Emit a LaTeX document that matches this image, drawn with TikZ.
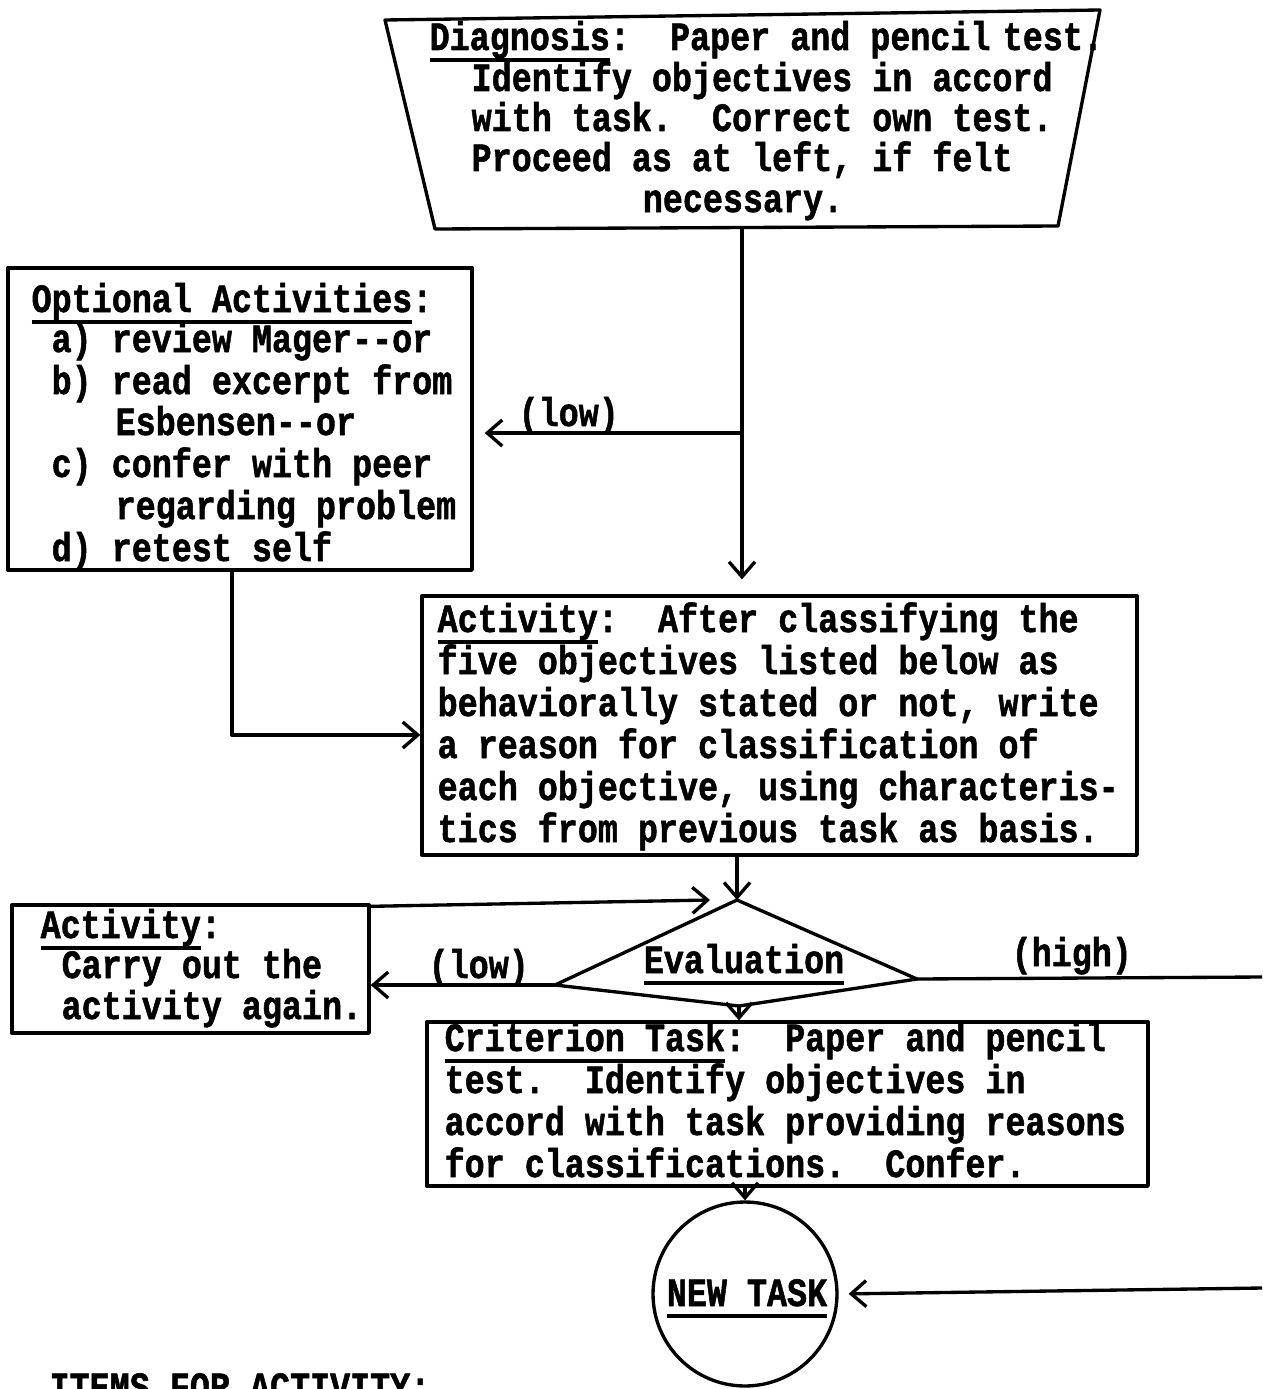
\documentclass[tikz,border=0pt]{standalone}
\usepackage{fontspec}
\newfontfamily\tw{Liberation Mono}[BoldFont={* Bold},BoldFeatures={FakeBold=1.5}]
\usetikzlibrary{arrows.meta,fit}
\newsavebox\ulbx
\newcommand\ul[1]{\sbox\ulbx{#1}\rlap{\rule[-5.5pt]{\wd\ulbx}{1.5pt}}\usebox\ulbx}
\newcommand\Y[1]{\scalebox{1}[1.2]{#1}}
\newcommand\F{\tw\bfseries\fontsize{19pt}{23pt}\selectfont\frenchspacing}
\begin{document}
\begin{tikzpicture}[x=0.02cm,y=-0.02cm,line width=1.9pt,line join=round,
  box/.style={draw,inner sep=0pt},
  tl/.style={inner sep=0pt,anchor=base west,font=\F},
  arr/.style={-{Straight Barb[length=0.3cm,width=0.52cm]}}]
\clip (0,0) rectangle (1262,1389);
% ---- Diagnosis (trapezoid)
\coordinate (t1) at (385,20);
\coordinate (t2) at (1100,10);
\coordinate (t3) at (1058,226);
\coordinate (t4) at (435,229);
\draw (t1) -- (t2) -- (t3) -- (t4) -- cycle;
\coordinate (dbot) at (742,227);
\node[tl] (d1) at (428,50) {\Y{\ul{Diagnosis}:~ Paper and pencil\hspace{7pt}test.}};
\node[tl] (d2) at (470,91) {\Y{Identify objectives in accord}};
\node[tl] (d3) at (470,131) {\Y{with task.~ Correct own test.}};
\node[tl] (d4) at (470,171) {\Y{Proceed as at left, if felt}};
\node[tl,anchor=base] (d5) at (743,212) {\Y{necessary.}};
% ---- Optional activities
\node[box,fit={(8,268) (472,570)}] (opt) {};
\node[tl] (o1) at (30,312) {\Y{\ul{Optional Activities}:}};
\node[tl] (o2) at (50,352) {\Y{a) review Mager-{}-or}};
\node[tl] (o3) at (50,394) {\Y{b) read excerpt from}};
\node[tl] (o4) at (114,435) {\Y{Esbensen-{}-or}};
\node[tl] (o5) at (50,477) {\Y{c) confer with peer}};
\node[tl] (o6) at (114,519) {\Y{regarding problem}};
\node[tl] (o7) at (50,561) {\Y{d) retest self}};
% ---- Activity (main)
\node[box,fit={(422,596) (1137,855)}] (act) {};
\node[tl] (a1) at (436,632) {\Y{\ul{Activity}:~ After classifying the}};
\node[tl] (a2) at (436,674) {\Y{five objectives listed below as}};
\node[tl] (a3) at (436,716) {\Y{behaviorally stated or not, write}};
\node[tl] (a4) at (436,758) {\Y{a reason for classification of}};
\node[tl] (a5) at (436,800) {\Y{each objective, using characteris-}};
\node[tl] (a6) at (436,842) {\Y{tics from previous task as basis.}};
% ---- Activity (repeat)
\node[box,fit={(12,905) (369,1033)}] (act2) {};
\node[tl] (b1) at (39,938) {\Y{\ul{Activity}:}};
\node[tl] (b2) at (60,978) {\Y{Carry out the}};
\node[tl] (b3) at (60,1019) {\Y{activity again.}};
% ---- Evaluation diamond
\coordinate (et) at (737,900);
\coordinate (el) at (555,985);
\coordinate (er) at (917,979);
\coordinate (eb) at (739,1006);
\draw (et) -- (er) -- (eb) -- (el) -- cycle;
\node[tl,anchor=base] (ev) at (744,973) {\Y{\ul{Evaluation}}};
% ---- Criterion task
\node[box,fit={(427,1022) (1148,1186)}] (crit) {};
\node[tl] (c1) at (443,1051) {\Y{\ul{Criterion Task}:~ Paper and pencil}};
\node[tl] (c2) at (443,1093) {\Y{test.~ Identify objectives in}};
\node[tl] (c3) at (443,1135) {\Y{accord with task providing reasons}};
\node[tl] (c4) at (443,1177) {\Y{for classifications.~ Confer.}};
% ---- New task
\node[draw,circle,inner sep=0pt,minimum size=3.68cm] (nt) at (745,1294) {};
\node[tl,anchor=base] (ntt) at (747,1306) {\Y{\ul{NEW TASK}}};
% ---- bottom heading (cut off)
\node[tl] (items) at (48,1400) {\Y{ITEMS FOR ACTIVITY:}};
% ---- labels
\node[tl] (low1) at (517,426) {\Y{(low)}};
\node[tl] (low2) at (427,978) {\Y{(low)}};
\node[tl] (high) at (1010,966) {\Y{(high)}};
% ---- connectors
\coordinate (br) at (742,433);
\coordinate (oj) at (232,735);
\coordinate (a2tip) at (710,900);
\coordinate (re1) at (1262,977);
\coordinate (re2) at (1262,1288);
\draw[arr,shorten >=0.3cm] (dbot) -- (dbot |- act.north);
\draw[arr,shorten >=0.22cm] (br) -- (br -| opt.east);
\draw[arr] (oj |- opt.south) -- (oj) -- (oj -| act.west);
\draw[arr] (act.south -| et) -- (et);
\draw[arr] ([yshift=-0.06cm]act2.north east) -- (a2tip);
\draw[arr] (el) -- (el -| act2.east);
\draw (er) -- (re1);
\draw[arr] (eb) -- (eb |- crit.north);
\draw[arr] (crit.south -| nt.north) -- (nt.north);
\draw[arr,shorten >=0.2cm] (re2) -- (nt.east);
\end{tikzpicture}
\end{document}
